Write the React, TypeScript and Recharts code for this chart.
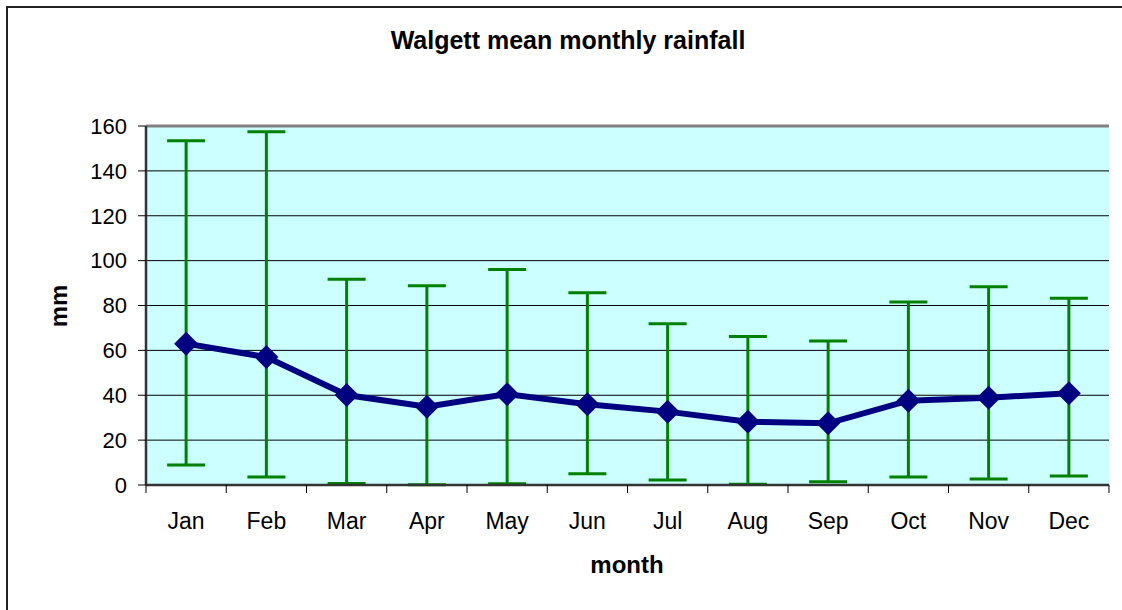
import { LineChart, Line, XAxis, YAxis, CartesianGrid, ErrorBar, ReferenceLine } from "recharts";

const months = ["Jan", "Feb", "Mar", "Apr", "May", "Jun", "Jul", "Aug", "Sep", "Oct", "Nov", "Dec"];
const meanRain = [63, 57, 40.1, 34.9, 40.5, 36, 32.7, 28.2, 27.5, 37.6, 38.9, 40.9];
const upperRain = [153.4, 157.4, 91.7, 88.8, 96.1, 85.7, 71.9, 66.2, 64.2, 81.6, 88.4, 83.2];
const lowerRain = [8.9, 3.6, 0.7, 0.1, 0.6, 5, 2.2, 0.3, 1.5, 3.6, 2.7, 4];
const yTicks = [0, 20, 40, 60, 80, 100, 120, 140, 160];

const data = months.map((m, i) => ({
  month: m,
  mean: meanRain[i],
  err: [meanRain[i] - lowerRain[i], upperRain[i] - meanRain[i]],
}));

const FONT = "'Liberation Sans', Arial, sans-serif";

function Diamond(props: any) {
  const { cx, cy, index } = props;
  if (cx == null || cy == null) return <g key={index} />;
  const r = 12;
  return (
    <path
      key={index}
      d={`M${cx},${cy - r} L${cx + r},${cy} L${cx},${cy + r} L${cx - r},${cy} Z`}
      fill="#000080"
    />
  );
}

function MonthTick(props: any) {
  const { x, y, payload, index, width, visibleTicksCount } = props;
  const half = (width ?? 962) / (visibleTicksCount ?? 12) / 2;
  const last = index === (visibleTicksCount ?? 12) - 1;
  return (
    <g>
      <line x1={x - half} x2={x - half} y1={y} y2={y + 8} stroke="#000" strokeWidth={1} />
      {last && <line x1={x + half} x2={x + half} y1={y} y2={y + 8} stroke="#000" strokeWidth={1} />}
      <text x={x} y={y + 44} textAnchor="middle" fontSize={23} fill="#000" fontFamily={FONT}>
        {payload.value}
      </text>
    </g>
  );
}

export default function App() {
  return (
    <div style={{ position: "absolute", left: 0, top: 0, width: 1122, height: 610, overflow: "hidden", background: "#fff", fontFamily: FONT }}>
      <div style={{ position: "absolute", left: 6, top: 6, width: 1200, height: 700, borderLeft: "2px solid #222", borderTop: "2px solid #222" }} />
      <div style={{ position: "absolute", left: 568, top: 28, transform: "translateX(-50%)", fontSize: 25, fontWeight: "bold", lineHeight: 1, whiteSpace: "nowrap" }}>
        Walgett mean monthly rainfall
      </div>
      <div style={{ position: "absolute", left: 627, top: 553, transform: "translateX(-50%)", fontSize: 24, fontWeight: "bold", lineHeight: 1 }}>
        month
      </div>
      <div style={{ position: "absolute", left: 59, top: 306, transform: "translate(-50%, -50%) rotate(-90deg)", fontSize: 24, fontWeight: "bold", lineHeight: 1 }}>
        mm
      </div>
      <div style={{ position: "absolute", left: 0, top: 0 }}>
        <LineChart width={1122} height={610} data={data} margin={{ top: 126, right: 13, bottom: 65, left: 0 }}>
          <CartesianGrid vertical={false} stroke="#000" fill="#CCFFFF" fillOpacity={1} />
          <XAxis
            dataKey="month"
            scale="band"
            height={60}
            axisLine={{ stroke: "#333", strokeWidth: 2.5 }}
            tickLine={false}
            tickSize={0}
            tickMargin={0}
            tick={<MonthTick />}
            interval={0}
          />
          <YAxis
            domain={[0, 160]}
            ticks={yTicks}
            width={146}
            axisLine={{ stroke: "#333", strokeWidth: 2.5 }}
            tickLine={{ stroke: "#000" }}
            tickSize={8}
            tickMargin={11}
            tick={{ fontSize: 22, fill: "#000", fontFamily: FONT }}
            interval={0}
          />
          <YAxis
            yAxisId="right"
            orientation="right"
            domain={[0, 160]}
            width={0}
            tick={false}
            tickLine={false}
            axisLine={{ stroke: "#808080", strokeWidth: 3 }}
          />
          <ReferenceLine y={160} stroke="#808080" strokeWidth={3} />
          <Line dataKey="mean" stroke="none" dot={false} activeDot={false} isAnimationActive={false}>
            <ErrorBar dataKey="err" width={19} strokeWidth={3} stroke="#008000" direction="y" />
          </Line>
          <Line
            dataKey="mean"
            stroke="#000080"
            strokeWidth={6}
            dot={Diamond}
            activeDot={false}
            isAnimationActive={false}
          />
        </LineChart>
      </div>
    </div>
  );
}
